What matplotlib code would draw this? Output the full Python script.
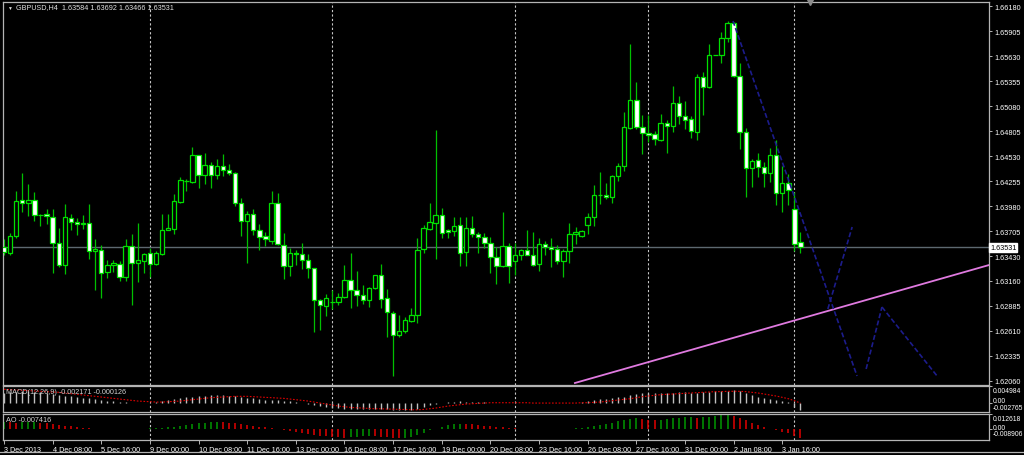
import matplotlib
matplotlib.use("Agg")
import matplotlib.pyplot as plt
from matplotlib.transforms import offset_copy
import numpy as np

# ---- data (GBPUSD H4, 3 Dec 2013 .. 6 Jan 2014) ----
opens = [1.6353, 1.6347, 1.6365, 1.6405, 1.6402, 1.6405, 1.6388, 1.6389, 1.6386, 1.6358,
         1.6333, 1.6385, 1.6381, 1.6378, 1.6380, 1.6349, 1.6350, 1.6326, 1.6333, 1.6335,
         1.6320, 1.6354, 1.6336, 1.6338, 1.6347, 1.6334, 1.6346, 1.6372, 1.6373, 1.6403,
         1.6426, 1.6425, 1.6454, 1.6432, 1.6443, 1.6432, 1.6442, 1.6438, 1.6435, 1.6402,
         1.6382, 1.6390, 1.6372, 1.6365, 1.6360, 1.6402, 1.6355, 1.6332, 1.6347, 1.6346,
         1.6339, 1.6330, 1.6295, 1.6288, 1.6293, 1.6293, 1.6298, 1.6317, 1.6306, 1.6300,
         1.6295, 1.6308, 1.6322, 1.6297, 1.6281, 1.6257, 1.6261, 1.6272, 1.6279, 1.6351,
         1.6373, 1.6380, 1.6388, 1.6372, 1.6371, 1.6377, 1.6348, 1.6374, 1.6368, 1.6364,
         1.6358, 1.6342, 1.6332, 1.6354, 1.6338, 1.6344, 1.6350, 1.6344, 1.6334, 1.6356,
         1.6353, 1.6351, 1.6338, 1.6349, 1.6367, 1.6365, 1.6377, 1.6386, 1.6410, 1.6410,
         1.6408, 1.6431, 1.6442, 1.6484, 1.6515, 1.6485, 1.6478, 1.6477, 1.6471, 1.6489,
         1.6486, 1.6511, 1.6497, 1.6494, 1.6480, 1.6540, 1.6529, 1.6564, 1.6564, 1.6583,
         1.6599, 1.6541, 1.6480, 1.6440, 1.6449, 1.6441, 1.6434, 1.6454, 1.6413, 1.6424,
         1.6395, 1.63584]
highs = [1.6362, 1.6369, 1.6415, 1.6435, 1.6422, 1.6414, 1.6390, 1.6395, 1.6395, 1.6374,
         1.6401, 1.6389, 1.6385, 1.6388, 1.6401, 1.6362, 1.6355, 1.6339, 1.6339, 1.6338,
         1.6362, 1.6368, 1.6380, 1.6347, 1.6352, 1.6349, 1.6390, 1.6389, 1.6412, 1.6430,
         1.6428, 1.6463, 1.6454, 1.6457, 1.6447, 1.6450, 1.6455, 1.6444, 1.6436, 1.6407,
         1.6393, 1.6395, 1.6378, 1.6370, 1.6415, 1.6413, 1.6369, 1.6352, 1.6350, 1.6358,
         1.6346, 1.6330, 1.6296, 1.6302, 1.6306, 1.6303, 1.6333, 1.6347, 1.6327, 1.6311,
         1.6309, 1.6323, 1.6334, 1.6307, 1.6283, 1.6279, 1.6276, 1.6286, 1.6363, 1.6377,
         1.6402, 1.6482, 1.6396, 1.6373, 1.6386, 1.6386, 1.6386, 1.6387, 1.6370, 1.6369,
         1.6364, 1.6353, 1.6392, 1.6358, 1.6358, 1.6351, 1.6372, 1.6370, 1.6363, 1.6360,
         1.6363, 1.6355, 1.6351, 1.6380, 1.6375, 1.6372, 1.6391, 1.6421, 1.6436, 1.6423,
         1.6432, 1.6446, 1.6502, 1.6576, 1.6535, 1.6498, 1.6498, 1.6481, 1.6499, 1.6493,
         1.6530, 1.6519, 1.6514, 1.6497, 1.6543, 1.6545, 1.6576, 1.6564, 1.6589, 1.6602,
         1.6600, 1.6555, 1.6484, 1.6450, 1.6457, 1.6447, 1.6462, 1.6471, 1.6442, 1.6433,
         1.6414, 1.63692]
lows = [1.6344, 1.6344, 1.6363, 1.6392, 1.6387, 1.6382, 1.6376, 1.6378, 1.6325, 1.6331,
        1.6324, 1.6372, 1.6366, 1.6373, 1.6340, 1.6306, 1.6297, 1.6319, 1.6326, 1.6316,
        1.6316, 1.6290, 1.6315, 1.6325, 1.6320, 1.6333, 1.6344, 1.6372, 1.6367, 1.6402,
        1.6415, 1.6424, 1.6418, 1.6422, 1.6418, 1.6428, 1.6431, 1.6432, 1.6398, 1.6365,
        1.6336, 1.6366, 1.6350, 1.6354, 1.6357, 1.6355, 1.6318, 1.6321, 1.6333, 1.6329,
        1.6319, 1.6260, 1.6262, 1.6277, 1.6285, 1.6290, 1.6297, 1.6286, 1.6288, 1.6291,
        1.6287, 1.6307, 1.6286, 1.6254, 1.6212, 1.6254, 1.6259, 1.6271, 1.6270, 1.6347,
        1.6372, 1.6340, 1.6363, 1.6363, 1.6365, 1.6332, 1.6332, 1.6364, 1.6347, 1.6352,
        1.6325, 1.6313, 1.6331, 1.6314, 1.6322, 1.6339, 1.6344, 1.6332, 1.6327, 1.6344,
        1.6331, 1.6335, 1.6320, 1.6336, 1.6356, 1.6364, 1.6368, 1.6376, 1.6400, 1.6406,
        1.6402, 1.6426, 1.6437, 1.6483, 1.6483, 1.6455, 1.6469, 1.6465, 1.6470, 1.6457,
        1.6480, 1.6488, 1.6483, 1.6473, 1.6471, 1.6498, 1.6528, 1.6564, 1.6555, 1.6578,
        1.6540, 1.6461, 1.6408, 1.6419, 1.6430, 1.6419, 1.6425, 1.6399, 1.6392, 1.6399,
        1.6349, 1.63466]
closes = [1.6348, 1.6365, 1.6404, 1.6402, 1.6405, 1.6388, 1.6388, 1.6387, 1.6358, 1.6333,
          1.6386, 1.6381, 1.6378, 1.6380, 1.6349, 1.6351, 1.6325, 1.6333, 1.6336, 1.6320,
          1.6354, 1.6336, 1.6339, 1.6346, 1.6335, 1.6347, 1.6372, 1.6374, 1.6404, 1.6427,
          1.6426, 1.6454, 1.6432, 1.6443, 1.6432, 1.6442, 1.6438, 1.6434, 1.6402, 1.6382,
          1.6390, 1.6372, 1.6364, 1.6362, 1.6402, 1.6356, 1.6332, 1.6347, 1.6346, 1.6339,
          1.6330, 1.6295, 1.6289, 1.6297, 1.6293, 1.6298, 1.6317, 1.6306, 1.6300, 1.6295,
          1.6308, 1.6322, 1.6296, 1.6282, 1.6257, 1.6261, 1.6273, 1.6279, 1.6350, 1.6374,
          1.6381, 1.6388, 1.6369, 1.6370, 1.6376, 1.6347, 1.6374, 1.6368, 1.6364, 1.6358,
          1.6342, 1.6332, 1.6354, 1.6332, 1.6344, 1.6350, 1.6344, 1.6333, 1.6356, 1.6353,
          1.6351, 1.6338, 1.6349, 1.6367, 1.6370, 1.6371, 1.6386, 1.6410, 1.6410, 1.6408,
          1.6431, 1.6442, 1.6485, 1.6515, 1.6485, 1.6479, 1.6476, 1.6472, 1.6489, 1.6486,
          1.6511, 1.6497, 1.6493, 1.6481, 1.6540, 1.6529, 1.6564, 1.6564, 1.6583, 1.6599,
          1.6541, 1.6480, 1.6440, 1.6448, 1.6441, 1.6434, 1.6454, 1.6413, 1.6424, 1.6416,
          1.6357, 1.63531]

# MACD(12,26,9): main (histogram) and signal, in units of 1e-3
macd_main = [3.0, 3.1, 3.3, 3.4, 3.4, 3.3, 3.1, 2.9, 2.6,
             2.3, 2.0, 1.9, 1.7, 1.5, 1.4, 1.2, 0.9,
             0.6, 0.4, 0.2, 0.1, 0.0, -0.1, -0.2, -0.1,
             0.1, 0.4, 0.7, 1.0, 1.3, 1.6, 1.8, 2.0, 2.1, 2.2, 2.2, 2.2, 2.1, 1.9, 1.7, 1.5,
             1.3, 1.1, 0.9, 0.8, 0.8, 0.6, 0.4, 0.2, 0.0, -0.3, -0.6, -1.0, -1.3, -1.5, -1.7,
             -1.8, -1.9, -1.9, -1.9, -2.0, -2.0, -2.0, -2.0, -2.1, -2.3, -2.3, -2.2, -2.0,
             -1.4, -0.8, -0.4, 0.0, 0.2, 0.3, 0.4, 0.3, 0.3, 0.2, 0.1, 0.0, -0.1, -0.2, -0.1, -0.2, -0.1, -0.1,
             -0.1, -0.2, -0.1, -0.1, -0.1, -0.2, -0.1, 0.0, 0.2, 0.4, 0.7, 1.0, 1.2, 1.4,
             1.6, 1.8, 2.2, 2.7, 2.9, 3.0, 3.0, 3.0, 3.0, 3.0, 3.1,
             3.1, 3.0, 3.0, 3.3, 3.3, 3.5, 3.5, 3.6, 3.7, 3.4,
             2.8, 2.2, 1.8, 1.4, 1.0, 0.8, 0.4, 0.2, -1.2, -2.171]
macd_signal = [4.0, 3.9, 3.8, 3.7, 3.6, 3.5, 3.4, 3.3, 3.2, 3.1, 2.9, 2.7, 2.5, 2.3, 2.1, 1.9,
               1.7, 1.5, 1.3, 1.1, 0.9, 0.7, 0.5, 0.4, 0.3,
               0.2, 0.2, 0.3, 0.4, 0.5, 0.7, 0.9, 1.1, 1.3, 1.5, 1.6, 1.7, 1.8, 1.9, 1.9, 1.9,
               1.8, 1.7, 1.6, 1.5, 1.4, 1.3, 1.1, 0.9, 0.7, 0.5, 0.2, -0.1, -0.4, -0.7, -1.0,
               -1.2, -1.4, -1.5, -1.6, -1.7, -1.8, -1.8, -1.9, -1.9, -2.0, -2.0, -2.1, -2.1,
               -2.0, -1.8, -1.6, -1.3, -1.0, -0.8, -0.6, -0.4, -0.3, -0.2, -0.1, 0.0, 0.0, 0.0, 0.0, 0.0, 0.0, 0.0,
               -0.1, -0.1, -0.1, -0.1, -0.1, -0.1, -0.1, -0.1, 0.0, 0.0, 0.1, 0.2, 0.4, 0.6,
               0.8, 1.0, 1.2, 1.5, 1.8, 2.0, 2.2, 2.4, 2.5, 2.6, 2.7,
               2.8, 2.9, 3.0, 3.1, 3.2, 3.3, 3.3, 3.4, 3.4, 3.4,
               3.3, 3.1, 2.9, 2.6, 2.3, 2.0, 1.6, 1.2, 0.6, -0.126]
# Awesome Oscillator, units of 1e-3
ao = [6.0, 5.8, 5.5, 5.6, 5.8, 5.9, 5.5, 5.0, 4.5,
      3.8, 3.0, 2.4, 1.8, 1.2, 0.8, 0.5, 0.3, 0.2, 0.1, 0.1, 0.2, 0.3, 0.4, 0.5, 0.7,
      0.9, 1.2, 1.5, 1.9, 2.5, 3.2, 4.0, 4.8, 5.5, 5.8, 6.0, 5.8, 5.5, 5.0,
      4.4, 3.8, 3.0, 2.2, 1.5, 0.8, 0.0, -0.8, -1.6, -2.5, -3.3, -4.0, -4.8, -5.5, -6.0, -6.5, -6.8,
      -7.0, -6.8, -6.5, -6.0, -5.5, -5.8, -6.2, -6.8, -7.2, -7.5, -7.2, -6.5, -5.0,
      -3.0, -1.0, 0.5, 2.0, 3.5, 4.2, 4.5, 4.3, 4.0, 3.5, 3.0, 2.5, 2.0, 1.6, 1.2, 0.8, 0.5, 0.3,
      0.2, 0.1, 0.1, 0.2, 0.3, 0.4, 0.5, 0.8, 1.2, 1.8, 2.5, 3.5, 4.5, 5.5,
      6.5, 7.5, 8.5, 9.0, 8.5, 8.0, 7.5, 8.0, 8.5, 9.0, 9.5,
      9.8, 10.0, 9.5, 10.0, 10.5, 11.0, 11.5, 11.8, 11.0, 9.5,
      7.5, 5.5, 3.5, 1.5, 0.0, -1.0, -2.0, -3.0, -5.5, -7.416]

time_labels = ["3 Dec 2013", "4 Dec 08:00", "5 Dec 16:00", "9 Dec 00:00", "10 Dec 08:00",
               "11 Dec 16:00", "13 Dec 00:00", "16 Dec 08:00", "17 Dec 16:00", "19 Dec 00:00",
               "20 Dec 08:00", "23 Dec 16:00", "26 Dec 08:00", "27 Dec 16:00", "31 Dec 00:00",
               "2 Jan 08:00", "3 Jan 16:00"]
label_every = 8
week_starts = [24, 54, 84, 106, 130]

price_ticks = [1.66180, 1.65905, 1.65630, 1.65355, 1.65080, 1.64805, 1.64530, 1.64255,
               1.63980, 1.63705, 1.63430, 1.63160, 1.62885, 1.62610, 1.62335, 1.62060]
bid = 1.63531

# hand-drawn objects: (bar index, price) anchor pairs
pink_line = [(93.9, 1.62038), (162.0, 1.63334)]
navy_lines = [[(119.9, 1.66015), (140.3, 1.62115)],
              [(135.5, 1.62851), (139.5, 1.63752)],
              [(141.8, 1.62192), (144.4, 1.62873)],
              [(144.4, 1.62873), (153.6, 1.62104)]]

# ---- layout ----
W, H = 1024, 456
BG = "black"
FRAME = "#b4b4b4"
TXT = "#ffffff"
FS = 5.2
plt.rcParams["font.family"] = ["Liberation Sans", "DejaVu Sans"]

fig = plt.figure(figsize=(W / 100, H / 100), dpi=100, facecolor=BG)


def px_axes(x0, y0, x1, y1):
    a = fig.add_axes([x0 / W, 1 - y1 / H, (x1 - x0) / W, (y1 - y0) / H])
    a.set_facecolor(BG)
    for s in a.spines.values():
        s.set_color(FRAME)
        s.set_linewidth(0.9)
    return a


bar_px = 6.08
x_left, x_right = 3, 989
xmin = -(4 - x_left) / bar_px
xmax = xmin + (x_right - x_left) / bar_px

ax = px_axes(x_left, 3, x_right, 386)
ax_macd = px_axes(x_left, 387, x_right, 413)
ax_ao = px_axes(x_left, 415, x_right, 441)

n = len(closes)
idx = np.arange(n)
o, h, l, c = map(np.array, (opens, highs, lows, closes))

# price scale: 1.62060 at y=382 px, 0.00010987 per px
p_per_px = 0.00010987
ax.set_ylim(1.62060 - (386 - 382) * p_per_px, 1.62060 + (382 - 3) * p_per_px)

for a in (ax, ax_macd, ax_ao):
    a.set_xlim(xmin, xmax)
    for w in week_starts:
        a.axvline(w, color="#c8c8c8", lw=0.8, ls=(0, (2, 2)), zorder=1)
    a.tick_params(axis="x", bottom=False, labelbottom=False)
    a.yaxis.tick_right()
    a.tick_params(axis="y", colors=FRAME, labelcolor=TXT, labelsize=FS,
                  length=2, width=0.7, pad=2)

# candles
ax.axhline(bid, color="#5d6870", lw=1.0, zorder=1)
ax.vlines(idx, l, h, color="#00c000", lw=0.9, zorder=2)
bear = c < o
ax.bar(idx, c - o, bottom=o, width=0.72,
       color=np.where(bear, "white", "black"), edgecolor="#00e000",
       linewidth=0.9, zorder=3)

(px0, py0), (px1, py1) = pink_line
ax.plot([px0, px1], [py0, py1], color="#e07ae0", lw=1.3, zorder=4)
for seg in navy_lines:
    (sx0, sy0), (sx1, sy1) = seg
    ax.plot([sx0, sx1], [sy0, sy1], color="#1c1c8c", lw=1.2,
            ls=(0, (3, 1.5)), zorder=4)

ax.set_yticks(price_ticks)
ax.set_yticklabels([f"{v:.5f}" for v in price_ticks])
ax.text(1.001, bid, f"{bid:.5f}", transform=ax.get_yaxis_transform(),
        fontsize=FS, color="black", va="center", ha="left",
        bbox=dict(boxstyle="square,pad=0.15", fc="white", ec="white"))

# chart shift marker
ax.plot([n + 0.6], [ax.get_ylim()[1]], marker="v", ms=4.5, color="#8c8c8c",
        clip_on=False, zorder=6)


def scale_labels(a, top, top_txt, low_txt):
    # MT4 sub-window scale: max label hangs under the top edge,
    # zero label sits on the zero line, min label just under it
    a.set_yticks([top, 0.0])
    a.set_yticklabels(["", ""])
    ytr = a.get_yaxis_transform()
    fs = FS - 0.3
    a.text(1.004, top, top_txt, fontsize=fs, color=TXT, va="top", ha="left",
           transform=offset_copy(ytr, fig=fig, x=0, y=-0.4, units="points"))
    a.text(1.004, 0.0, "0.00", fontsize=fs, color=TXT, va="baseline", ha="left",
           transform=offset_copy(ytr, fig=fig, x=0, y=0.3, units="points"))
    a.text(1.004, 0.0, low_txt, fontsize=fs, color=TXT, va="top", ha="left",
           transform=offset_copy(ytr, fig=fig, x=0, y=-0.6, units="points"))


# MACD panel
mm = np.array(macd_main) / 1000
ms_ = np.array(macd_signal) / 1000
ax_macd.set_ylim(-0.002765, 0.004984)
ax_macd.vlines(idx, 0, mm, color="#c0c0c0", lw=1.0, zorder=2)
ax_macd.plot(idx, ms_, color="#e00000", lw=0.8, ls=(0, (1.5, 1.5)), zorder=3)
scale_labels(ax_macd, 0.004984, "0.004984", "-0.002765")
ax_macd.text(0.003, 0.78, "MACD(12,26,9) -0.002171 -0.000126",
             transform=ax_macd.transAxes, fontsize=FS, color="#d0d0d0",
             va="center", ha="left")

# AO panel
aov = np.array(ao) / 1000
ao_up = np.r_[True, aov[1:] > aov[:-1]]
ax_ao.set_ylim(-0.008906, 0.012618)
ax_ao.vlines(idx, 0, aov, colors=np.where(ao_up, "#008c00", "#d00000"), lw=1.2, zorder=2)
scale_labels(ax_ao, 0.012618, "0.012618", "-0.008906")
ax_ao.text(0.003, 0.78, "AO -0.007416", transform=ax_ao.transAxes,
           fontsize=FS, color="#d0d0d0", va="center", ha="left")

# time axis
ax_ao.tick_params(axis="x", bottom=True, labelbottom=True, colors=FRAME,
                  labelcolor=TXT, labelsize=FS, length=3, width=0.7, pad=1.5)
ax_ao.set_xticks(idx[::label_every][:len(time_labels)])
ax_ao.set_xticklabels(time_labels, ha="left")

# title
fig.text(16 / W, 1 - 8 / H, "GBPUSD,H4  1.63584 1.63692 1.63466 1.63531",
         fontsize=FS, color="#e0e0e0", va="center", ha="left")
fig.text(7 / W, 1 - 8 / H, "\u25bc", fontsize=3.5, color="#e0e0e0",
         va="center", ha="left")

# outer frame line under the time scale
fig.add_artist(plt.Line2D([0, 1], [1 - 453 / H] * 2, color=FRAME, lw=0.9))

fig.savefig("out.png", dpi=100, facecolor=BG)
